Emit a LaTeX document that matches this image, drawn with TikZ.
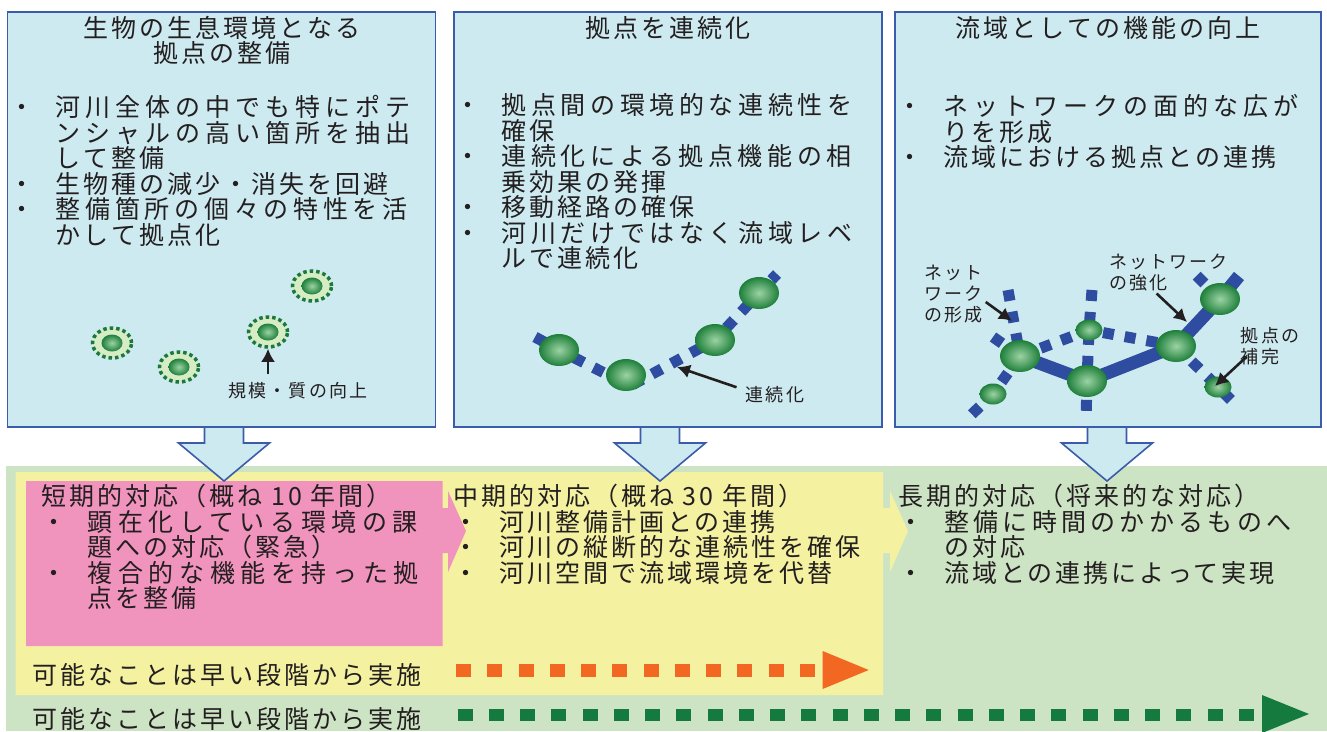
\documentclass[tikz,border=0pt]{standalone}
\usepackage{fontspec}
\newfontfamily\jp[LetterSpace=12]{Noto Sans CJK JP}
\usetikzlibrary{shapes.geometric,arrows.meta,calc}

\definecolor{panelblue}{HTML}{CDEAF0}
\definecolor{panelline}{HTML}{3A5CAA}
\definecolor{bggreen}{HTML}{CDE4C4}
\definecolor{boxyellow}{HTML}{F4F1A0}
\definecolor{boxpink}{HTML}{F194BD}
\definecolor{dotorange}{HTML}{F26822}
\definecolor{dotgreen}{HTML}{157A3E}
\definecolor{linkblue}{HTML}{2E4DA0}
\definecolor{ringfill}{HTML}{D6ECC4}
\definecolor{ringdot}{HTML}{1C783C}
\definecolor{hubin}{HTML}{9CD3A4}
\definecolor{hubout}{HTML}{1E7F3A}
\definecolor{ink}{HTML}{231F20}

\lineskiplimit=-30pt
\newcommand\lh{\rule{0pt}{24pt}}
\newcommand\slh{\rule{0pt}{17pt}}
\newcommand\itm{\makebox[46pt][l]{・}}
\newcommand\cnt{\hspace*{46pt}}
\newcommand\spread[2]{{\addfontfeature{LetterSpace=#1}#2}}

\tikzset{
  panel/.style={draw=panelline, fill=panelblue, line width=1.6pt},
  downarrow/.style={draw=panelline, fill=panelblue, line width=1.6pt},
  ttl/.style={font=\jp\fontsize{25}{25}\selectfont, text=ink, align=center, inner sep=0pt, anchor=north},
  body/.style={font=\jp\fontsize{25}{25.5}\selectfont, text=ink, align=left, inner sep=0pt, anchor=north west},
  note/.style={font=\jp\fontsize{18}{21}\selectfont, text=ink, align=left, inner sep=0pt, anchor=north west},
  spot/.style={ellipse, draw=ringdot, fill=ringfill, line width=3.5pt, dash pattern=on 3.5pt off 3pt, minimum width=39pt, minimum height=30pt, inner sep=0pt},
  hub/.style={ellipse, inner color=hubin, outer color=hubout, minimum width=40pt, minimum height=32pt, inner sep=0pt},
  minihub/.style={hub, minimum width=27pt, minimum height=21pt},
  corehub/.style={hub, minimum width=21pt, minimum height=17pt},
  dotlink/.style={draw=linkblue, line width=11pt, dash pattern=on 11pt off 11pt},
  mainlink/.style={draw=linkblue, line width=13pt},
  pointer/.style={draw=ink, line width=2.6pt, -{Latex[length=13pt,width=14pt]}},
}

\begin{document}
\begin{tikzpicture}[x=1pt, y=-1pt]
\useasboundingbox (0,0) rectangle (1327,731);

\fill[bggreen] (6,466) rectangle (1327,731);
\fill[boxyellow] (15.5,472) -- (883,472) -- (883,508) -- (890,508) -- (890,491) -- (908,531) -- (890,572) -- (890,553) -- (883,553) -- (883,695) -- (15.5,695) -- cycle;
\fill[boxpink] (26,481) -- (442.5,481) -- (442.5,508) -- (448,508) -- (448,491) -- (466,531) -- (448,572) -- (448,553) -- (442.5,553) -- (442.5,646) -- (26,646) -- cycle;

\foreach \c in {224,660,1107}
  \draw[downarrow] (\c-19.5,427) -- (\c-19.5,443) -- (\c-45.5,443) -- (\c,481) -- (\c+45.5,443) -- (\c+19.5,443) -- (\c+19.5,427);

\draw[panel] (7.5,12) rectangle (435.5,427);
\draw[panel] (454,12) rectangle (882,427);
\draw[panel] (895,12) rectangle (1321,427);

\node[ttl] (t1) at (222,13) {\lh 生物の生息環境となる\\拠点の整備};
\node[ttl] (t2) at (668,13) {\lh 拠点を連続化};
\node[ttl] (t3) at (1108,13) {\lh 流域としての機能の向上};

\node[body] (b1) at (9.6,92.5) {\lh\itm\spread{20}{河川全体の中でも特にポテ}\\\cnt\spread{20}{ンシャルの高い箇所を抽出}\\\cnt して整備\\\itm 生物種の減少・消失を回避\\\itm\spread{18.8}{整備箇所の個々の特性を活}\\\cnt かして拠点化};
\node[body] (b2) at (455.6,90.5) {\lh\itm\spread{18.4}{拠点間の環境的な連続性を}\\\cnt 確保\\\itm\spread{18.4}{連続化による拠点機能の相}\\\cnt 乗効果の発揮\\\itm 移動経路の確保\\\itm\spread{18.4}{河川だけではなく流域レベ}\\\cnt ルで連続化};
\node[body] (b3) at (897.6,91.5) {\lh\itm\spread{20}{ネットワークの面的な広が}\\\cnt りを形成\\\itm 流域における拠点との連携};

\foreach \n/\p in {1/{112,343},2/{179,367},3/{268,332},4/{312,286}} {
  \node[spot] (s\n) at (\p) {};
  \node[corehub] (k\n) at (s\n) {};
}
\node[note, anchor=north] (qual) at (298,379.8) {\slh 規模・質の向上};
\draw[pointer] ($(qual.north -| s3)+(0,-6)$) -- (s3.south);

\coordinate (pa) at (535,337);
\coordinate (pb) at (630,386);
\coordinate (pz) at (777,274);
\coordinate (p1) at (559,350);
\coordinate (p2) at (626,375);
\coordinate (p3) at (715,340);
\coordinate (p4) at (759,293);
\draw[dotlink] (pa) -- (p1) -- (pb) -- (p3) -- (p4) -- (pz);
\foreach \n in {1,...,4}
  \node[hub] (h\n) at (p\n) {};
\node[note] (cont) at (745.5,383.8) {\slh 連続化};
\coordinate (gap) at (677,367);
\draw[pointer] ($(cont.west)+(-9,-6)$) -- (gap);

\coordinate (q1) at (1020,356);
\coordinate (q2) at (1089,330);
\coordinate (q3) at (1087,381);
\coordinate (q4) at (1176,346);
\coordinate (q5) at (1220,299);
\coordinate (q6) at (993,394);
\coordinate (q7) at (1218,387);
\coordinate (qe) at (1239,276);
\coordinate (qv1) at (1092,290);
\coordinate (qv2) at (1086,421);
\coordinate (qt) at (1008,290);
\coordinate (qs) at (971,415);
\coordinate (qw) at (993,337);
\coordinate (qr) at (1237,406);
\coordinate (qn) at (1191,270);
\draw[mainlink] (q1) -- (q3) -- (q4) -- (q5) -- (qe);
\draw[dotlink] (qv1) -- (q2) -- (q3) -- (qv2);
\draw[dotlink] (qt) -- (q1) -- (q6) -- (qs);
\draw[dotlink] (qw) -- (q1);
\draw[dotlink] (q1) -- (q2) -- (q4);
\draw[dotlink] (q4) -- (q7) -- (qr);
\draw[dotlink] (q5) -- (qn);
\foreach \n in {1,3,4,5}
  \node[hub] (g\n) at (q\n) {};
\foreach \n in {2,6,7}
  \node[minihub] (g\n) at (q\n) {};

\node[note] (form) at (924,262.5) {\slh ネット\\ワーク\\の形成};
\node[note] (boost) at (1109,251.5) {\slh ネットワーク\\の強化};
\node[note] (supp) at (1240.7,324.8) {\slh 拠点の\\補完};
\coordinate (tf) at (1012,321);
\coordinate (tb) at (1187,322);
\coordinate (ts) at (1215,386);
\draw[pointer] ($(form.east)+(3,9)$) -- (tf);
\draw[pointer] ($(boost.south)+(-12,2)$) -- (tb);
\draw[pointer] ($(supp.south west)+(6,-8)$) -- (ts);

\node[body] (d1) at (41.5,481.3) {\lh 短期的対応（概ね 10 年間）\\\itm\spread{22.4}{顕在化している環境の課}\\\cnt 題への対応（緊急）\\\itm\spread{22.4}{複合的な機能を持った拠}\\\cnt 点を整備};
\node[body] (d2) at (453,481.3) {\lh 中期的対応（概ね 30 年間）\\\itm 河川整備計画との連携\\\itm 河川の縦断的な連続性を確保\\\itm 河川空間で流域環境を代替};
\node[body] (d3) at (898,481.3) {\lh 長期的対応（将来的な対応）\\\itm\spread{17.2}{整備に時間のかかるものへ}\\\cnt の対応\\\itm 流域との連携によって実現};

\node[body] (mid) at (32,660.5) {\lh 可能なことは早い段階から実施};
\draw[dotorange, line width=13pt, dash pattern=on 15pt off 16.25pt] (456,670) -- (815,670);
\fill[dotorange] (822.6,651) -- (868.7,670) -- (822.6,689) -- cycle;

\node[body] (long) at (32,704) {\lh 可能なことは早い段階から実施};
\draw[dotgreen, line width=12pt, dash pattern=on 15pt off 16.25pt] (457.6,715) -- (1254,715);
\fill[dotgreen] (1262,695) -- (1309,714) -- (1262,733) -- cycle;
\end{tikzpicture}
\end{document}
